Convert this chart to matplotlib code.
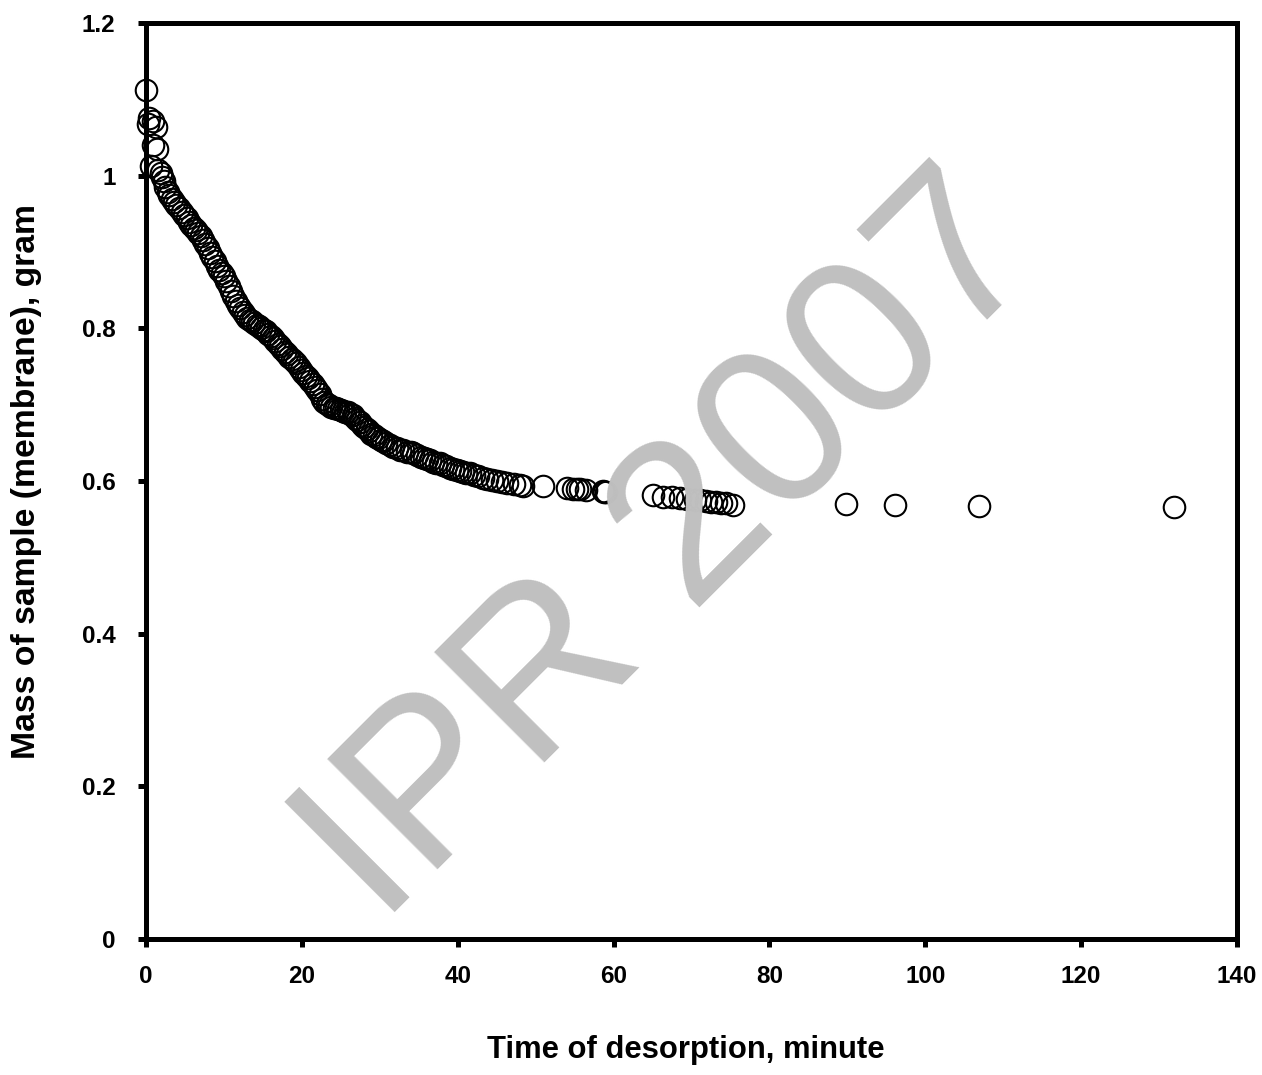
import matplotlib
matplotlib.use("Agg")
import matplotlib.pyplot as plt

plt.rcParams['font.family'] = ['Liberation Sans', 'DejaVu Sans']

# ---- data ----
time_min = [
    0.0, 0.4, 0.9, 1.3, 0.2, 0.9, 1.4, 0.6,
    1.6, 1.9, 2.1, 2.3, 2.5, 2.8, 3.0, 3.3, 3.6, 3.9, 4.2, 4.6, 4.9, 5.2,
    5.5, 5.8, 6.1, 6.4, 6.7, 7.0, 7.3, 7.6, 7.9, 8.2, 8.5, 8.8, 9.1, 9.4,
    9.7, 10.0, 10.3, 10.6, 10.9, 11.2, 11.5, 11.8, 12.1, 12.4, 12.7, 13.0,
    13.3, 13.6, 13.9, 14.2, 14.5, 14.8, 15.1, 15.4, 15.7, 16.0, 16.3, 16.6,
    16.9, 17.2, 17.5, 17.8, 18.1, 18.4, 18.7, 19.0, 19.3, 19.6, 19.9, 20.2,
    20.5, 20.8, 21.1, 21.4, 21.7, 22.0, 22.3, 22.6, 22.9, 23.2, 23.5, 23.8,
    24.1, 24.4, 24.7, 25.0, 25.3, 25.6, 25.9, 26.2, 26.5, 26.8, 27.1, 27.4,
    27.7, 28.0, 28.3, 28.6, 28.9, 29.2, 29.5, 29.8, 30.1, 30.4, 30.8, 31.3,
    31.7, 32.2, 32.6, 33.0, 33.5, 34.0, 34.3, 34.8, 35.3, 35.7, 36.1, 36.5,
    36.8, 37.2, 37.7, 38.1, 38.5, 39.0, 39.4, 39.9, 40.3, 40.7, 41.1, 41.6,
    42.1, 42.6, 43.2, 43.8, 44.4, 45.0, 45.7, 46.3, 47.2, 48.0, 48.4, 50.9,
    54.0, 54.8, 55.3, 55.7, 56.4, 58.6, 58.8, 59.0,
    65.1, 66.3, 67.5, 68.5, 69.4, 70.4, 71.1, 71.9, 72.5, 73.1, 73.8, 74.4,
    75.3,
    89.8, 96.1, 106.9, 131.9,
]
mass_g = [
    1.112, 1.075, 1.072, 1.064, 1.068, 1.040, 1.035, 1.013,
    1.008, 1.003, 0.998, 0.993, 0.985, 0.978, 0.975, 0.970, 0.966, 0.962,
    0.958, 0.953, 0.948, 0.944, 0.939, 0.935, 0.932, 0.929, 0.925, 0.921,
    0.916, 0.910, 0.905, 0.899, 0.894, 0.888, 0.882, 0.877, 0.872, 0.868,
    0.862, 0.855, 0.849, 0.842, 0.836, 0.831, 0.826, 0.821, 0.817, 0.814,
    0.811, 0.809, 0.807, 0.805, 0.803, 0.801, 0.798, 0.796, 0.793, 0.790,
    0.787, 0.784, 0.780, 0.777, 0.773, 0.769, 0.766, 0.763, 0.760, 0.757,
    0.754, 0.750, 0.746, 0.742, 0.738, 0.735, 0.731, 0.727, 0.723, 0.719,
    0.714, 0.708, 0.704, 0.701, 0.699, 0.697, 0.696, 0.695, 0.694, 0.693,
    0.692, 0.691, 0.690, 0.688, 0.686, 0.683, 0.680, 0.677, 0.674, 0.671,
    0.668, 0.665, 0.662, 0.660, 0.658, 0.656, 0.654, 0.652, 0.650, 0.647,
    0.645, 0.643, 0.641, 0.640, 0.638, 0.638, 0.637, 0.634, 0.632, 0.630,
    0.629, 0.627, 0.625, 0.624, 0.623, 0.621, 0.619, 0.617, 0.616, 0.614,
    0.613, 0.612, 0.611, 0.610, 0.608, 0.606, 0.604, 0.602, 0.601, 0.600,
    0.599, 0.598, 0.596, 0.595, 0.594, 0.593,
    0.591, 0.590, 0.590, 0.589, 0.588, 0.587, 0.586, 0.585,
    0.582, 0.579, 0.579, 0.578, 0.576, 0.575, 0.575, 0.574, 0.572, 0.572,
    0.571, 0.571, 0.569,
    0.570, 0.569, 0.567, 0.566,
]

x_ticks = [0, 20, 40, 60, 80, 100, 120, 140]
x_tick_labels = ["0", "20", "40", "60", "80", "100", "120", "140"]
y_ticks = [0, 0.2, 0.4, 0.6, 0.8, 1.0, 1.2]
y_tick_labels = ["0", "0.2", "0.4", "0.6", "0.8", "1", "1.2"]

x_label = "Time of desorption, minute"
y_label = "Mass of sample (membrane), gram"
watermark = "IPR 2007"

# ---- figure ----
fig = plt.figure(figsize=(12.62, 10.75), dpi=100)
ax = fig.add_axes([146 / 1262, 1 - 939 / 1075, (1237 - 146) / 1262, (939 - 23) / 1075])

ax.set_xlim(0, 140)
ax.set_ylim(0, 1.2)

ax.plot(time_min, mass_g, linestyle='none', marker='o', markersize=15.5,
        markerfacecolor='none', markeredgecolor='black', markeredgewidth=1.5,
        clip_on=False, zorder=5)

for s in ax.spines.values():
    s.set_linewidth(3.6)
    s.set_zorder(3)

ax.set_xticks(x_ticks)
ax.set_xticklabels(x_tick_labels)
ax.set_yticks(y_ticks)
ax.set_yticklabels(y_tick_labels)
ax.tick_params(axis='both', direction='out', length=6, width=3.6, labelsize=17.5)
ax.tick_params(axis='x', pad=13)
ax.tick_params(axis='y', pad=16)
for lab in ax.get_xticklabels() + ax.get_yticklabels():
    lab.set_fontweight('bold')

fig.text(686 / 1262, 1 - 1050 / 1075, x_label, ha='center', va='center',
         fontsize=22.3, fontweight='bold')
fig.text(27 / 1262, 1 - 482 / 1075, y_label, ha='center', va='center',
         rotation=90, fontsize=24.3, fontweight='bold')

fig.text(673 / 1262, 1 - 551 / 1075, watermark, ha='center', va='center',
         rotation=45, rotation_mode='anchor', fontsize=163, color='#c0c0c0',
         zorder=0)

fig.savefig("out.png", dpi=100)
